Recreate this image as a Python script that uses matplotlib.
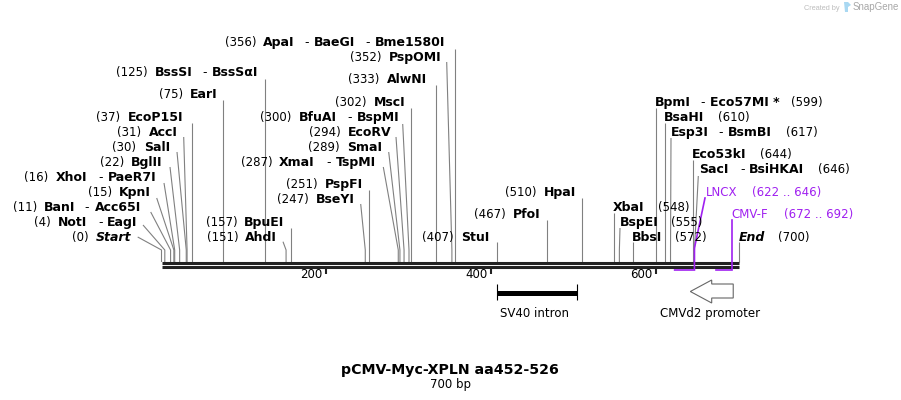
import matplotlib
matplotlib.use("Agg")
import matplotlib.pyplot as plt
import matplotlib.transforms as mtransforms
from matplotlib.patches import Polygon

W = 901
H = 400

# the map itself
total_bp = 700
title = "pCMV-Myc-XPLN aa452-526"
subtitle = "700 bp"
tick_bp = [200, 400, 600]

site_names = ["Start", "NotI|EagI", "BanI|Acc65I", "KpnI", "XhoI|PaeR7I", "BglII", "SalI", "AccI",
              "EcoP15I", "EarI", "BssSI|BssSαI", "AhdI", "BpuEI", "BseYI", "PspFI", "XmaI|TspMI",
              "SmaI", "EcoRV", "BfuAI|BspMI", "MscI", "AlwNI", "PspOMI", "ApaI|BaeGI|Bme1580I",
              "StuI", "PfoI", "HpaI", "XbaI", "BspEI", "BbsI", "BpmI|Eco57MI *", "BsaHI",
              "Esp3I|BsmBI", "Eco53kI", "SacI|BsiHKAI", "End"]
site_bp = [0, 4, 11, 15, 16, 22, 30, 31,
           37, 75, 125, 151, 157, 247, 251, 287,
           289, 294, 300, 302, 333, 352, 356,
           407, 467, 510, 548, 555, 572, 599, 610,
           617, 644, 646, 700]

primer_names = ["LNCX", "CMV-F"]
primer_start = [622, 672]
primer_end = [646, 692]

intron_name = "SV40 intron"
intron_start = 407
intron_end = 504

promoter_name = "CMVd2 promoter"
promoter_start = 693
promoter_end = 641

# label layout in pixels: baseline y, x of each text part, leader end (x, y), True if straight
layout = {
    "Start": (241, [72, 96], (137.7, 237), False),
    "NotI|EagI": (226, [34, 58, 98, 107], (143, 225), False),
    "BanI|Acc65I": (211, [13, 44, 84, 95], (150.7, 212), False),
    "KpnI": (196, [88, 119], (156.7, 198), False),
    "XhoI|PaeR7I": (181, [24, 56, 98, 108], (164, 183), False),
    "BglII": (166, [100, 131], (170, 167), False),
    "SalI": (151, [112, 144], (177, 152), False),
    "AccI": (136, [117, 149], (183.7, 137), False),
    "EcoP15I": (121, [96, 128], (0, 123), True),
    "EarI": (98, [159, 190], (0, 100), True),
    "BssSI|BssSαI": (76, [116, 155, 202, 212], (0, 79), True),
    "AhdI": (241, [207, 245], (283, 241.7), False),
    "BpuEI": (226, [206, 244], (0, 228), True),
    "BseYI": (203, [277, 316], (360.7, 204), False),
    "PspFI": (188, [286, 325], (0, 190), True),
    "XmaI|TspMI": (166, [241, 279, 326, 336], (383.3, 167), False),
    "SmaI": (151, [308, 347], (388.7, 152), False),
    "EcoRV": (136, [309, 348], (396, 137), False),
    "BfuAI|BspMI": (121, [260, 299, 347, 357], (402.7, 124), False),
    "MscI": (106, [335, 374], (0, 108), True),
    "AlwNI": (83, [348, 387], (0, 85), True),
    "PspOMI": (61, [350, 389], (446.7, 62), False),
    "ApaI|BaeGI|Bme1580I": (46, [225, 263, 304, 314, 365, 375], (0, 49), True),
    "StuI": (241, [422, 461], (0, 242), True),
    "PfoI": (218, [474, 513], (0, 220), True),
    "HpaI": (196, [505, 544], (0, 198), True),
    "XbaI": (211, [658, 613], (0, 212.7), True),
    "BspEI": (226, [671, 620], (620, 228), False),
    "BbsI": (241, [675, 632], (0, 242), True),
    "BpmI|Eco57MI *": (106, [791, 655, 700, 710], (0, 108), True),
    "BsaHI": (121, [718, 664], (0, 122.7), True),
    "Esp3I|BsmBI": (136, [786, 671, 718, 728], (671, 138), False),
    "Eco53kI": (158, [760, 692], (0, 160), True),
    "SacI|BsiHKAI": (173, [818, 699, 740, 749], (698.3, 176), False),
    "End": (241, [778, 739], (0, 242), True),
}

X0 = 161.5
X1 = 739.0
PURPLE = "#a020f0"
LINE_GREY = "#808080"
FS = 8.5
FS_BOLD = 9


def px_to_bp(x):
    return (x - X0) * total_bp / (X1 - X0)


fig = plt.figure(figsize=(W / 100, H / 100), dpi=100)
ax = fig.add_axes([0, 0, 1, 1])
ax.set_xlim(px_to_bp(0), px_to_bp(W))
ax.set_ylim(H, 0)
ax.axis("off")

# text and leaders are laid out in pixels
pix = mtransforms.Affine2D().scale(1 / W, -1 / H).translate(0, 1) + fig.transFigure


def put(x, y, s, **kw):
    kw.setdefault("fontsize", FS)
    kw.setdefault("va", "baseline")
    kw.setdefault("color", "black")
    ax.text(x, y, s, transform=pix, **kw)


# leaders first so the backbone sits on top
for name, bp in zip(site_names, site_bp):
    y, xs, end, straight = layout[name]
    if straight:
        ax.plot([bp, bp], [262, end[1]], color=LINE_GREY, lw=0.8, solid_capstyle="butt")
    else:
        ax.plot([bp, bp, px_to_bp(end[0])], [262, 250, end[1]], color=LINE_GREY, lw=0.8,
                solid_capstyle="butt", solid_joinstyle="miter")

    parts = name.split("|")
    italic = "italic" if name in ("Start", "End") else "normal"
    put(xs[0], y, "(%d)" % bp)
    put(xs[1], y, parts[0], fontsize=FS_BOLD, fontweight="bold", fontstyle=italic)
    for i, part in enumerate(parts[1:]):
        put(xs[2 + 2 * i], y, "-", fontsize=FS_BOLD)
        put(xs[3 + 2 * i], y, part, fontsize=FS_BOLD, fontweight="bold")

# backbone
ax.plot([0, total_bp], [262.5, 262.5], color="#222222", lw=2.2, solid_capstyle="butt")
ax.plot([0, total_bp], [266.5, 266.5], color="#222222", lw=2.2, solid_capstyle="butt")

for t in tick_bp:
    ax.plot([t - 1.2, t - 1.2], [267, 274], color="#222222", lw=1.5, solid_capstyle="butt")
    put((t - 1.2) * (X1 - X0) / total_bp + X0 - 3, 278, str(t), ha="right")

# primers
primer_tops = [198, 220]
primer_label_x = [(706, 752), (731, 784)]
primer_label_y = [196, 218]
for i, pname in enumerate(primer_names):
    a, b = primer_start[i], primer_end[i]
    if i == 0:
        ax.plot([a, b, b, px_to_bp(705)], [270, 270, 248, primer_tops[i]], color=PURPLE, lw=1.2,
                solid_joinstyle="miter")
    else:
        ax.plot([a, b, b], [270, 270, primer_tops[i]], color=PURPLE, lw=1.2, solid_joinstyle="miter")
    put(primer_label_x[i][0], primer_label_y[i], pname, color=PURPLE)
    put(primer_label_x[i][1], primer_label_y[i], "(%d .. %d)" % (a, b), color=PURPLE)

# SV40 intron bar
ax.plot([intron_start, intron_end], [292.5, 292.5], color="black", lw=3.6, solid_capstyle="butt")
for e in (intron_start, intron_end):
    ax.plot([e, e], [284, 300], color="black", lw=0.8, solid_capstyle="butt")
put(534.5, 317, intron_name, ha="center")

# CMVd2 promoter arrow, points to the left
xa = px_to_bp(711.7)
ax.add_patch(Polygon([(promoter_start, 284), (xa, 284), (xa, 280), (promoter_end, 291.5),
                      (xa, 303), (xa, 298), (promoter_start, 298)],
                     closed=True, fc="white", ec="#666666", lw=0.8))
put(710, 317, promoter_name, ha="center")

put(449.5, 374, title, ha="center", fontsize=10.2, fontweight="bold")
put(450, 388, subtitle, ha="center")

# watermark
put(804, 10, "Created by", fontsize=5.3, color="#bdbdbd", family="Liberation Sans")
put(853, 10.5, "SnapGene", fontsize=7, color="#a8a8a8", family="Liberation Sans")
fig.patches.append(Polygon([(844, 2), (848, 2), (851, 5), (848, 7), (848, 12), (845, 12)],
                           closed=True, fc="#a9d8f2", ec="none", transform=pix))

fig.savefig("out.png", dpi=100)
